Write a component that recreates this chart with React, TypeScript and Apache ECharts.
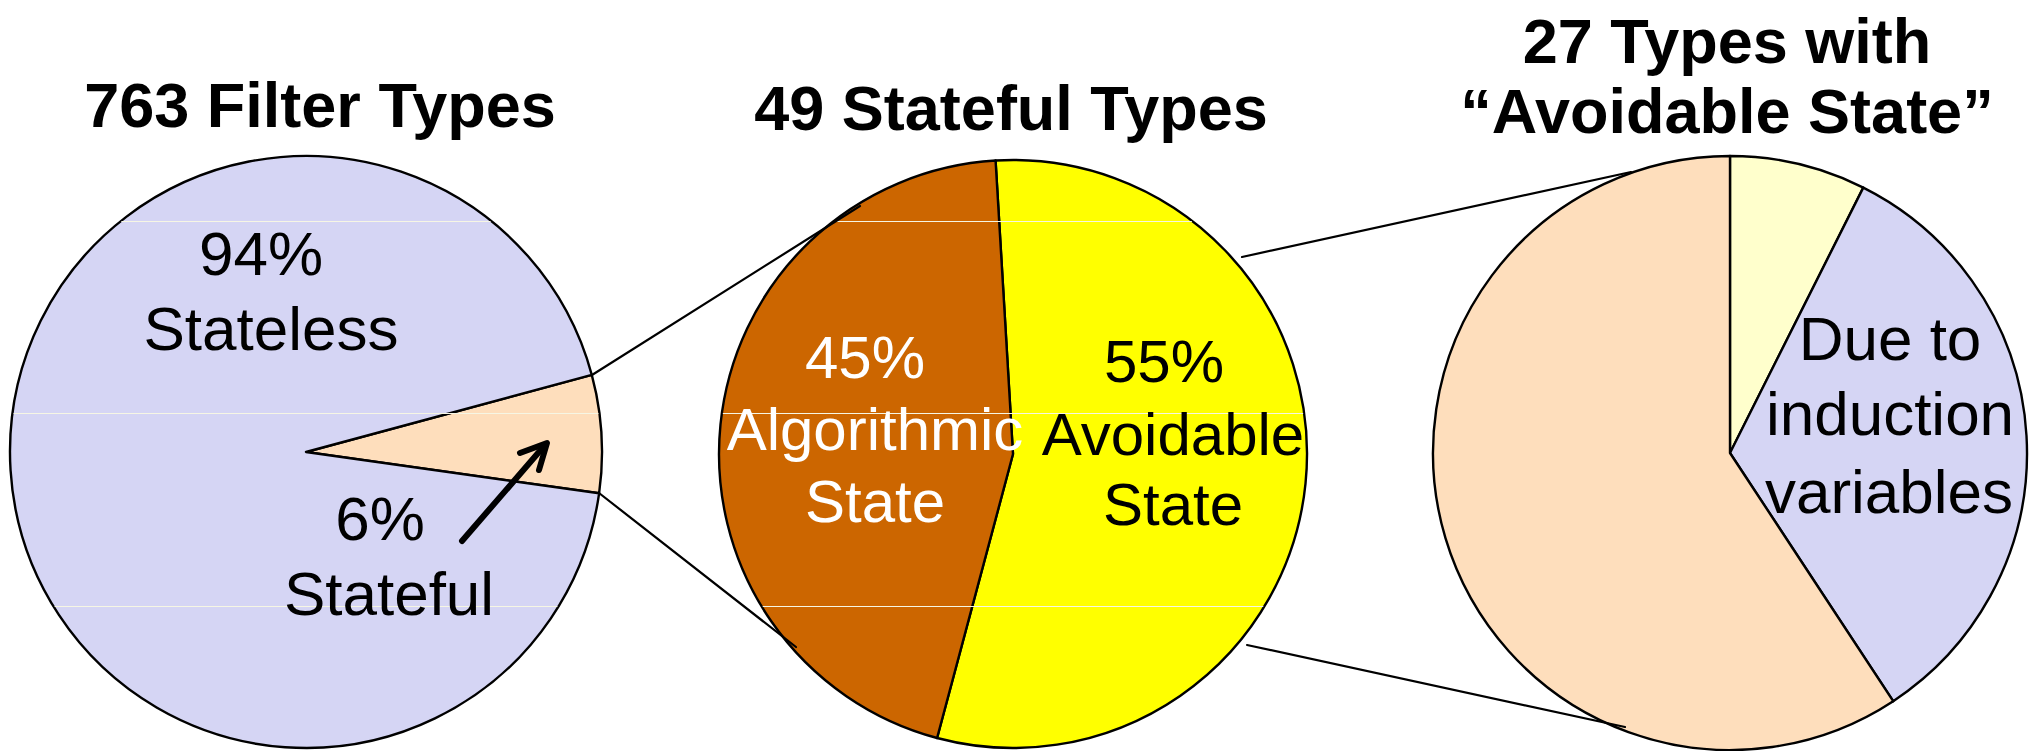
import React, { useEffect, useRef } from "react";
import * as echarts from "echarts";

// Filter census: all filter types, the stateful subset, and the "avoidable state" subset
const filterNames = ["Stateful", "Stateless"];
const filterCounts = [49, 714];

const statefulNames = ["Avoidable State", "Algorithmic State"];
const statefulCounts = [27, 22];

const avoidableNames = ["Other", "Due to induction variables", "Remaining"];
const avoidableCounts = [2, 9, 16];

const titles = ["763 Filter Types", "49 Stateful Types", "27 Types with", "\u201CAvoidable State\u201D"];

const LAVENDER = "#D5D5F4";
const PEACH = "#FEDEBC";
const YELLOW = "#FFFF00";
const RUST = "#CC6600";
const PALE_YELLOW = "#FFFFCC";
const FONT = "'Liberation Sans', Arial, Helvetica, sans-serif";

const pct = (v: number, all: number[]) => Math.round((v / all.reduce((a, b) => a + b, 0)) * 100);

// text placed by its alphabetic baseline
function txt(text: string, cx: number, baseline: number, size: number, bold = false, color = "#000") {
  return {
    type: "text",
    z: 10,
    x: cx,
    y: baseline - 0.35 * size,
    style: {
      text,
      fill: color,
      font: `${bold ? "bold " : ""}${size}px ${FONT}`,
      align: "center",
      verticalAlign: "middle",
    },
  };
}

function line(x1: number, y1: number, x2: number, y2: number, w = 2.2, color = "#000", z = 6) {
  return {
    type: "line",
    z,
    shape: { x1, y1, x2, y2 },
    style: { stroke: color, lineWidth: w, lineCap: "round" },
  };
}

// faint horizontal rule clipped to a circle
function chord(cx: number, cy: number, r: number, y: number) {
  const dy = y - cy;
  const h = Math.sqrt(Math.max(0, r * r - dy * dy));
  return line(cx - h + 1.5, y, cx + h - 1.5, y, 1.2, "#F6F6E4", 4);
}

const P1 = { cx: 306, cy: 452, r: 296 };
const P2 = { cx: 1013, cy: 454, r: 294 };
const P3 = { cx: 1730, cy: 453, r: 297 };

export default function App() {
  const ref = useRef<HTMLDivElement>(null);

  useEffect(() => {
    document.body.style.margin = "0";
    document.body.style.overflow = "hidden";
    const chart = echarts.init(ref.current!, undefined, { renderer: "svg" });

    const pieBase = {
      type: "pie",
      silent: true,
      clockwise: true,
      label: { show: false },
      labelLine: { show: false },
      emphasis: { disabled: true },
      itemStyle: { borderColor: "#000", borderWidth: 2.4 },
    };

    const option = {
      animation: false,
      backgroundColor: "#fff",
      series: [
        {
          ...pieBase,
          center: [P1.cx, P1.cy],
          radius: P1.r,
          startAngle: 15.1,
          data: filterNames.map((n, i) => ({
            name: n,
            value: filterCounts[i],
            itemStyle: { color: [PEACH, LAVENDER][i] },
          })),
        },
        {
          ...pieBase,
          center: [P2.cx, P2.cy],
          radius: P2.r,
          startAngle: 93.4,
          data: statefulNames.map((n, i) => ({
            name: n,
            value: statefulCounts[i],
            itemStyle: { color: [YELLOW, RUST][i] },
          })),
        },
        {
          ...pieBase,
          center: [P3.cx, P3.cy],
          radius: P3.r,
          startAngle: 90,
          data: avoidableNames.map((n, i) => ({
            name: n,
            value: avoidableCounts[i],
            itemStyle: { color: [PALE_YELLOW, LAVENDER, PEACH][i] },
          })),
        },
      ],
      graphic: [
        // faint horizontal rules over the first two pies
        ...[221.5, 413.5, 606.5].flatMap((y) => [chord(P1.cx, P1.cy, P1.r, y), chord(P2.cx, P2.cy, P2.r, y)]),
        // zoom connectors
        line(592, 375, 860, 206),
        line(599, 493, 796, 647),
        line(1242, 257, 1631, 172),
        line(1247, 645, 1625, 727),
        // arrow pointing into the stateful slice
        line(462, 541, 545, 445, 6, "#000", 8),
        {
          type: "polyline",
          z: 8,
          shape: { points: [[520, 453], [547, 443], [539, 470]] },
          style: { stroke: "#000", lineWidth: 6, lineCap: "round", lineJoin: "round", fill: "none" },
        },
        // titles
        txt(titles[0], 320, 127, 63, true),
        txt(titles[1], 1011, 130, 63, true),
        txt(titles[2], 1727, 63, 63, true),
        txt(titles[3], 1727, 133, 63, true),
        // slice labels
        txt(`${pct(filterCounts[1], filterCounts)}%`, 261, 275, 62),
        txt(filterNames[1], 271, 350, 62),
        txt(`${pct(filterCounts[0], filterCounts)}%`, 380, 540, 62),
        txt(filterNames[0], 389, 615, 62),
        txt(`${pct(statefulCounts[1], statefulCounts)}%`, 865, 378, 60, false, "#fff"),
        txt("Algorithmic", 875, 450, 60, false, "#fff"),
        txt("State", 875, 522, 60, false, "#fff"),
        txt(`${pct(statefulCounts[0], statefulCounts)}%`, 1164, 382, 60),
        txt("Avoidable", 1173, 455, 60),
        txt("State", 1173, 525, 60),
        txt("Due to", 1890, 360, 62),
        txt("induction", 1890, 435, 62),
        txt("variables", 1889, 513, 62),
      ],
    };

    chart.setOption(option as any);
    return () => chart.dispose();
  }, []);

  return <div ref={ref} style={{ width: 2036, height: 751 }} />;
}
